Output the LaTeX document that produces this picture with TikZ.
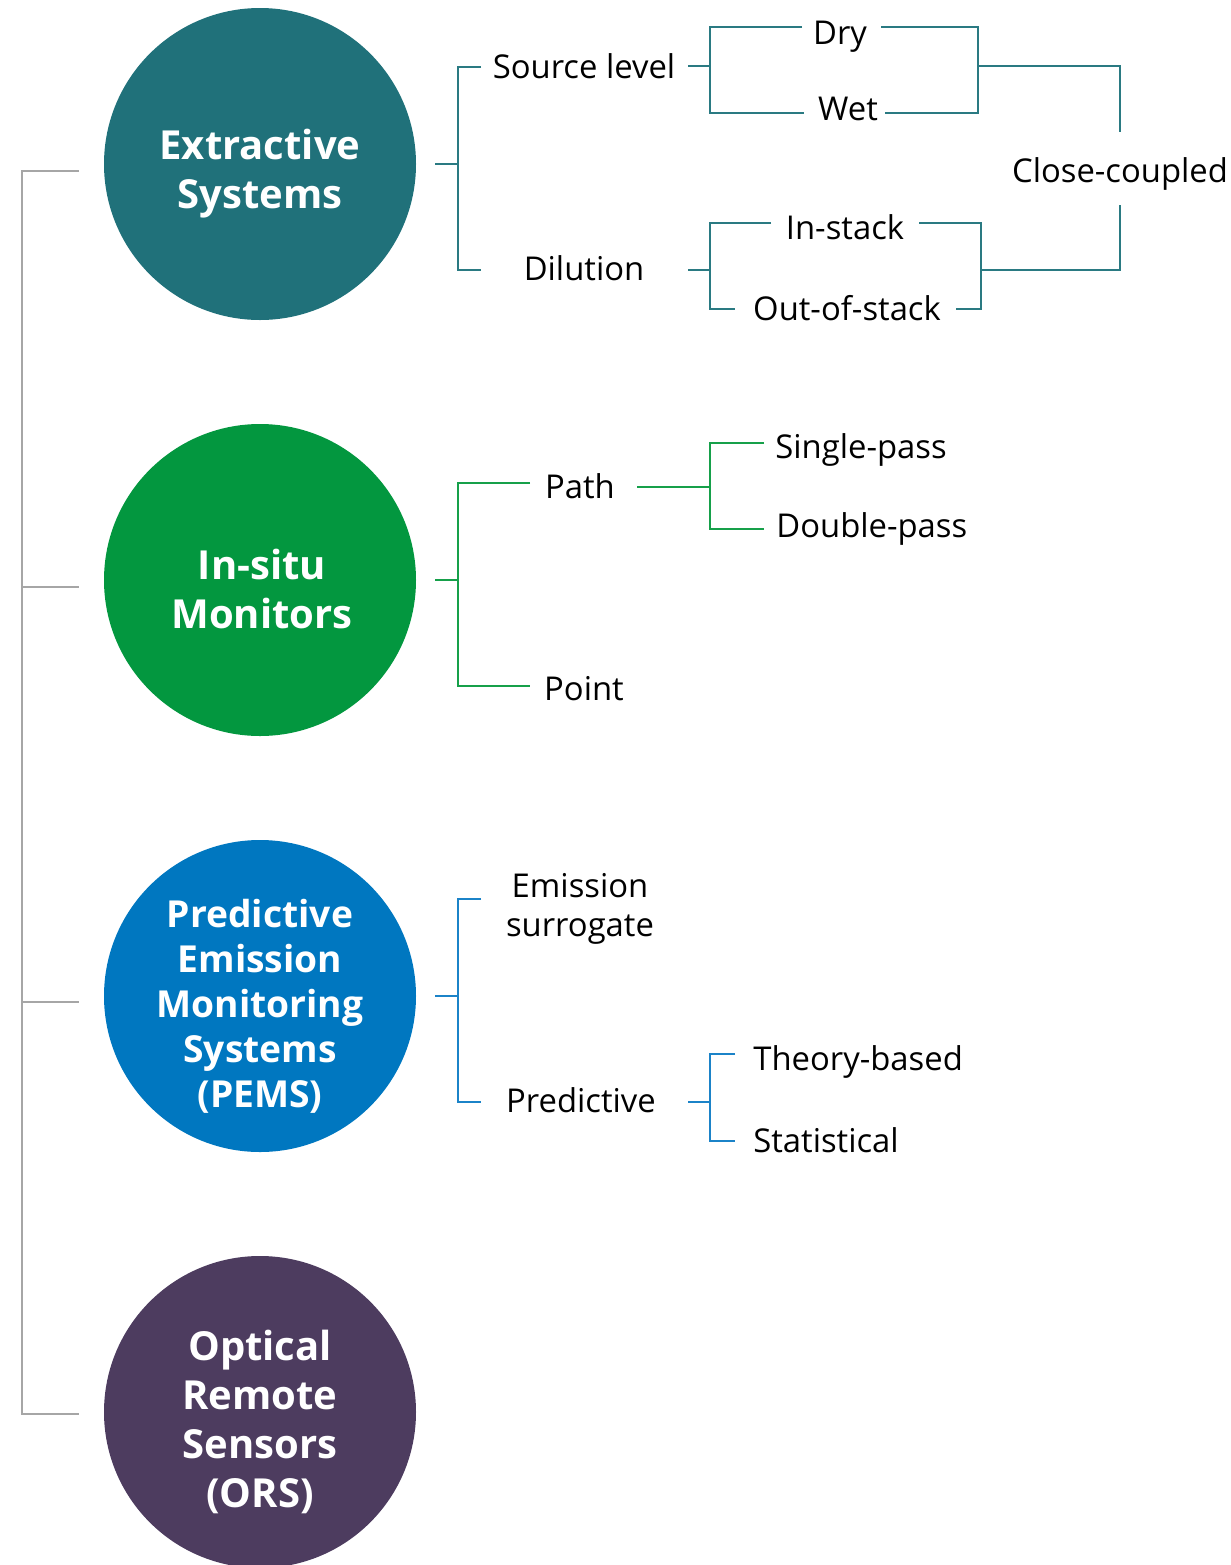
\documentclass[tikz,border=0pt]{standalone}
\usepackage{fontspec}
\setmainfont{Open Sans}
\definecolor{cteal}{HTML}{20717A}
\definecolor{cgreen}{HTML}{03973F}
\definecolor{cblue}{HTML}{0077C0}
\definecolor{cpurple}{HTML}{4D3C5F}
\definecolor{lteal}{HTML}{2A7A82}
\definecolor{lgreen}{HTML}{16A04A}
\definecolor{lblue}{HTML}{1B83C8}
\definecolor{lgray}{HTML}{A6A6A6}
\tikzset{
  bigcirc/.style={circle, minimum size=312*0.5pt, inner sep=0pt},
  ctext/.style={inner sep=0pt, text=white, align=center,
     font=\fontsize{20}{24.5}\selectfont\bfseries},
  lbl/.style={inner sep=0pt, anchor=base, font=\fontsize{16.4}{19.5}\selectfont},
  lbll/.style={lbl, anchor=base west},
  tl/.style={lteal, line width=1.35pt},
  gl/.style={lgreen, line width=1.35pt},
  bl/.style={lblue, line width=1.35pt},
  grl/.style={lgray, line width=1.4pt},
}
\begin{document}
\begin{tikzpicture}[x=0.5pt,y=-0.5pt]
\useasboundingbox (0,0) rectangle (1231,1565);
% circles
\node[bigcirc, fill=cteal] (ext) at (260,164) {};
\node[bigcirc, fill=cgreen] (ins) at (260,580) {};
\node[bigcirc, fill=cblue] (pems) at (260,996) {};
\node[bigcirc, fill=cpurple] (ors) at (260,1412) {};
\node[ctext] (extT) at (260,174) {Extractive\\Systems};
\node[ctext] (insT) at (262,589) {In-situ\\Monitors};
\node[ctext, font=\fontsize{18.6}{22.5}\selectfont\bfseries] (pemsT) at (260,1006) {Predictive\\Emission\\Monitoring\\Systems\\(PEMS)};
\node[ctext] (orsT) at (260,1422) {Optical\\Remote\\Sensors\\(ORS)};
% left gray bracket
\coordinate (g1) at (79,171);
\coordinate (g2) at (79,587);
\coordinate (g3) at (79,1002);
\coordinate (g4) at (79,1414);
\draw[grl] (g1) -- (22,171) -- (22,1414) -- (g4);
\draw[grl] (22,587) -- (g2);
\draw[grl] (22,1002) -- (g3);

% ---------- Extractive ----------
\node[lbl] (src) at (584,78) {Source level};
\node[lbl] (dil) at (584,280) {Dilution};
\node[lbl] (dry) at (840,44) {Dry};
\node[lbl] (wet) at (848,120) {Wet};
\node[lbl] (ins1) at (845,239) {In-stack};
\node[lbl] (outs) at (847,320) {Out-of-stack};
\node[lbl] (cc) at (1120,182) {Close-coupled};
\draw[tl] (435,164) -- (458,164);
\draw[tl] (481,67) -- (458,67) -- (458,270) -- (481,270);
\draw[tl] (688,66) -- (710,66);
\draw[tl] (802,27) -- (710,27) -- (710,113) -- (804,113);
\draw[tl] (688,270) -- (710,270);
\draw[tl] (771,223) -- (710,223) -- (710,309) -- (735,309);
\draw[tl] (881,27) -- (978,27) -- (978,113) -- (885,113);
\draw[tl] (978,66) -- (1120,66) -- (1120,132);
\draw[tl] (919,223) -- (981,223) -- (981,309) -- (956,309);
\draw[tl] (981,270) -- (1120,270) -- (1120,205);

% ---------- In-situ ----------
\node[lbl] (path) at (580,498) {Path};
\node[lbl] (point) at (584,700) {Point};
\node[lbll] (sp) at (775,458) {Single-pass};
\node[lbll] (dp) at (776,537) {Double-pass};
\draw[gl] (435,580) -- (458,580);
\draw[gl] (530,483) -- (458,483) -- (458,686) -- (530,686);
\draw[gl] (637,487) -- (710,487);
\draw[gl] (764,443) -- (710,443) -- (710,529) -- (764,529);

% ---------- PEMS ----------
\node[lbl, align=center, anchor=center] (es) at (580,909) {Emission\\surrogate};
\node[lbl] (pred) at (581,1112) {Predictive};
\node[lbll] (tb) at (753,1070) {Theory-based};
\node[lbll] (st) at (753,1152) {Statistical};
\draw[bl] (435,996) -- (458,996);
\draw[bl] (481,899) -- (458,899) -- (458,1102) -- (481,1102);
\draw[bl] (688,1102) -- (710,1102);
\draw[bl] (735,1054) -- (710,1054) -- (710,1141) -- (735,1141);
\end{tikzpicture}
\end{document}
